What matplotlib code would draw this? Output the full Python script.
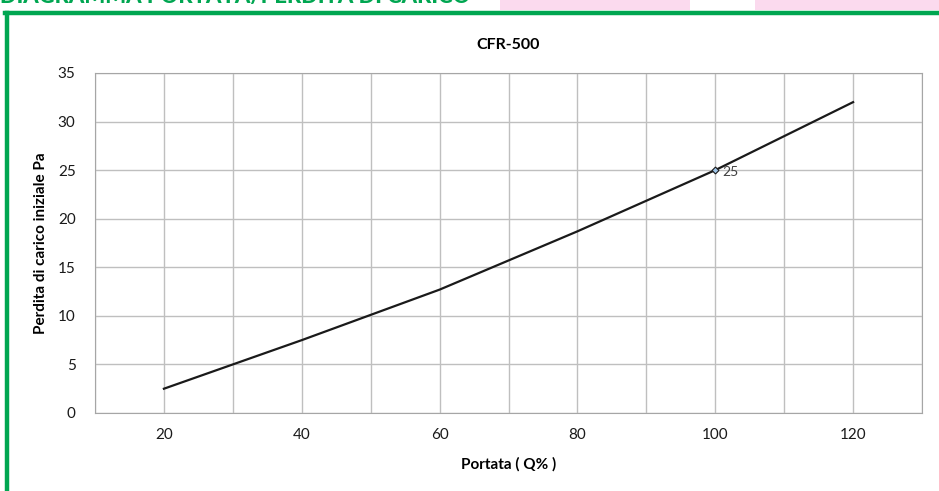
import matplotlib.pyplot as plt
from matplotlib.lines import Line2D
from matplotlib.patches import Rectangle

# dati
portata = [20, 40, 60, 80, 100, 120]
perdita = [2.5, 7.5, 12.7, 18.7, 25, 32]
punto_x = [100]
punto_y = [25]
x_ticks = [20, 40, 60, 80, 100, 120]
y_ticks = [0, 5, 10, 15, 20, 25, 30, 35]

plt.rcParams['font.family'] = ['Lato', 'DejaVu Sans']

W, H = 939, 491
fig = plt.figure(figsize=(W / 100, H / 100), dpi=100)
ax = fig.add_axes([95 / W, 1 - 413 / H, (922 - 95) / W, (413 - 73) / H])

verde = '#00a651'

# cornice verde e riquadri rosa in alto
fig.add_artist(Line2D([5 / W, 1], [1 - 13 / H, 1 - 13 / H], color=verde, lw=3.2))
fig.add_artist(Line2D([7 / W, 7 / W], [0, 1 - 13 / H], color=verde, lw=3.2))
fig.add_artist(Rectangle((500 / W, 1 - 10 / H), 190 / W, 10 / H, color='#fbdaee', lw=0))
fig.add_artist(Rectangle((755 / W, 1 - 10 / H), 184 / W, 10 / H, color='#fbdaee', lw=0))
fig.text(0, 1 - 3.5 / H, 'DIAGRAMMA PORTATA/PERDITA DI CARICO', color=verde,
         fontsize=15.8, fontweight='black', va='baseline', ha='left')

ax.plot(portata, perdita, color='#1a1a1a', lw=1.6)
ax.plot(punto_x, punto_y, marker='D', ms=3.5, color='#1a1a1a', mfc='#9dc3e6', mew=0.8, ls='none')
for x, y in zip(punto_x, punto_y):
    ax.annotate(f'{y:g}', (x, y), xytext=(5, -1), textcoords='offset points',
                va='center', ha='left', fontsize=10, color='#404040')

ax.set_xlim(10, 130)
ax.set_ylim(0, 35)
ax.set_xticks(x_ticks)
ax.set_xticks(range(10, 131, 10), minor=True)
ax.set_yticks(y_ticks)
ax.grid(True, which='both', color='#bfbfbf', lw=1)
ax.set_axisbelow(True)
for s in ax.spines.values():
    s.set_color('#a6a6a6')
ax.tick_params(which='both', length=0, labelsize=11, colors='#1a1a1a')
ax.tick_params(axis='x', pad=11)
ax.tick_params(axis='y', pad=14)

ax.set_title('CFR-500', fontsize=11.5, fontweight='bold', pad=17)
ax.set_xlabel('Portata ( Q% )', fontsize=11, fontweight='bold', labelpad=11)
ax.set_ylabel('Perdita di carico iniziale Pa', fontsize=11, fontweight='bold', labelpad=7)

fig.savefig('out.png', dpi=100)
